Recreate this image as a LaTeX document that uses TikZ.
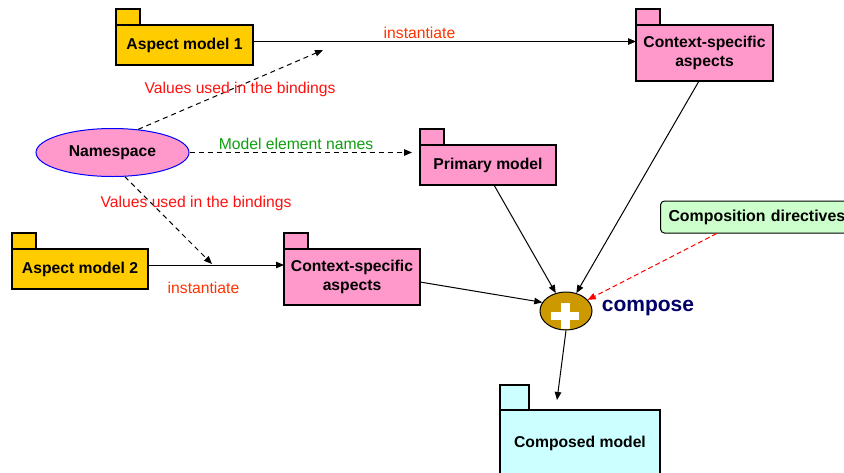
\documentclass[tikz,border=0pt]{standalone}
\usepackage{fontspec}
\setmainfont{Liberation Sans}
\usetikzlibrary{arrows.meta,shapes.geometric}

\definecolor{aspectgold}{HTML}{FFCC00}
\definecolor{pkgpink}{HTML}{FF99CC}
\definecolor{resultcyan}{HTML}{CCFFFF}
\definecolor{directivegreen}{HTML}{CCFFCC}
\definecolor{composegold}{HTML}{CC9900}
\definecolor{instred}{HTML}{FF3300}
\definecolor{bindred}{HTML}{FF1010}
\definecolor{namegreen}{HTML}{109E10}
\definecolor{composenavy}{HTML}{000066}

\tikzset{
  lbl/.style={font=\fontsize{15.7}{19}\selectfont, inner sep=0pt},
  pkgbody/.style={draw=black, line width=1.3pt, inner sep=0pt, outer sep=0pt,
    align=center, font=\bfseries\fontsize{15.7}{19}\selectfont},
  pkgtab/.style={draw=black, line width=1.3pt},
  flow/.style={draw=black, line width=1pt, -{Triangle[length=8pt,width=6.5pt]}},
  hint/.style={flow, dash pattern=on 5pt off 4pt},
}

\begin{document}
\begin{tikzpicture}[x=1pt, y=-1pt]
\useasboundingbox (0,0) rectangle (844,472);

% ---- packages (body + tab) ----
\node[pkgbody, fill=aspectgold, minimum width=137pt, minimum height=40pt] (am1) at (184.5,45) {Aspect model 1};
\draw[pkgtab, fill=aspectgold] (am1.north west) rectangle ++(24,-16);

\node[pkgbody, fill=pkgpink, minimum width=137pt, minimum height=56pt] (csa1) at (704.5,53) {Context-specific\\aspects};
\draw[pkgtab, fill=pkgpink] (csa1.north west) rectangle ++(24,-16);

\node[pkgbody, fill=pkgpink, minimum width=136pt, minimum height=40pt] (prim) at (488,165) {Primary model};
\draw[pkgtab, fill=pkgpink] (prim.north west) rectangle ++(24,-16);

\node[pkgbody, fill=aspectgold, minimum width=136pt, minimum height=40pt] (am2) at (80,269) {Aspect model 2};
\draw[pkgtab, fill=aspectgold] (am2.north west) rectangle ++(24,-16);

\node[pkgbody, fill=pkgpink, minimum width=136pt, minimum height=56pt] (csa2) at (352,277) {Context-specific\\aspects};
\draw[pkgtab, fill=pkgpink] (csa2.north west) rectangle ++(24,-16);

\node[pkgbody, fill=resultcyan, minimum width=160pt, minimum height=66pt] (cm) at (580,443) {Composed model};
\draw[pkgtab, fill=resultcyan] (cm.north west) rectangle ++(29,-25);

% ---- namespace ----
\node[ellipse, draw=blue, fill=pkgpink, line width=1pt, inner sep=0pt,
  minimum width=153pt, minimum height=48pt,
  font=\bfseries\fontsize{15.7}{19}\selectfont] (ns) at (112.5,152.5) {Namespace};

% ---- composition directives (runs past the right edge) ----
\node[draw=black, line width=1pt, fill=directivegreen, rounded corners=4pt,
  anchor=west, minimum height=32pt, inner xsep=8pt, inner ysep=0pt,
  text width=184pt, align=left,
  font=\bfseries\fontsize{15.9}{19}\selectfont] (dirs) at (660,217) {Composition directives};

% ---- compose operator ----
\node[ellipse, draw=black, fill=composegold, line width=1pt, inner sep=0pt,
  minimum width=52pt, minimum height=38pt] (comp) at (566,311) {};
\fill[white] (551,312) rectangle (579,319.5);
\fill[white] (560.5,302.5) rectangle (569.5,328.5);
\node[font=\bfseries\fontsize{21}{24}\selectfont, text=composenavy, inner sep=0pt] (complbl) at (648,308) {compose};

% ---- instantiate connectors ----
\path ([yshift=3.5pt]am1.east) coordinate (inst1);
\draw[flow] (inst1) -- (inst1 -| csa1.west);
\node[lbl, text=instred] (inst1lbl) at (419.5,33) {instantiate};

\path ([yshift=4pt]am2.east) coordinate (inst2);
\draw[flow] (inst2) -- (inst2 -| csa2.west);
\node[lbl, text=instred] (inst2lbl) at (203.5,288) {instantiate};

% ---- namespace dependencies ----
\coordinate (bind1) at (323,50);
\coordinate (bind2) at (212,264);
\draw[hint] (ns.42) -- (bind1);
\draw[hint] (ns.297) -- (bind2);
\draw[hint, shorten >=8pt] (ns.east) -- (ns.east -| prim.west);
\node[lbl, text=bindred] (bind1lbl) at (240,89) {Values used in the bindings};
\node[lbl, text=bindred] (bind2lbl) at (196,203) {Values used in the bindings};
\node[lbl, text=namegreen] (nameslbl) at (296,144) {Model element names};

% ---- inputs of the composition ----
\draw[flow] ([xshift=6pt]prim.south) -- (comp);
\draw[flow] ([xshift=-5.5pt]csa1.south) -- (comp);
\draw[flow] ([yshift=-5pt]csa2.east) -- (comp.160);
\draw[flow, draw=red, dash pattern=on 5pt off 3pt] ([xshift=56.7pt]dirs.south west) -- (comp);

% ---- result ----
\coordinate (cmin) at (557,400);
\draw[flow] (comp.south) -- (cmin);
\end{tikzpicture}
\end{document}
